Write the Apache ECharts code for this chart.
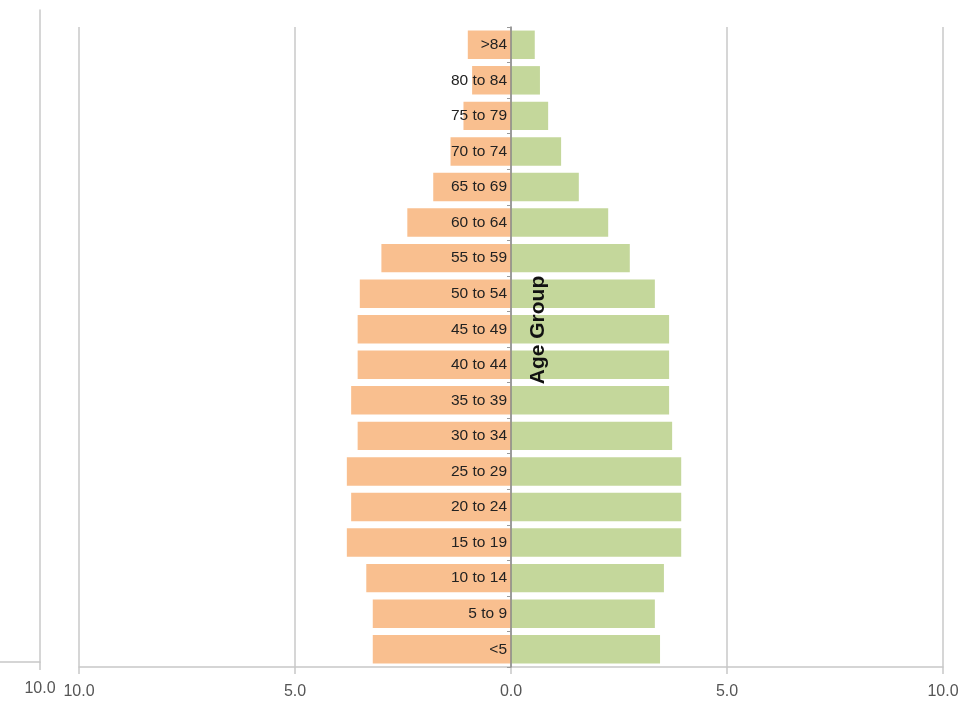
<!DOCTYPE html>
<html><head><meta charset="utf-8">
<script src="https://cdn.jsdelivr.net/npm/echarts@6/dist/echarts.min.js"></script>
<style>html,body{margin:0;padding:0;background:#fff}#c{width:977px;height:703px}</style>
</head><body><div id="c"></div>
<script>
const categories = ["<5","5 to 9","10 to 14","15 to 19","20 to 24","25 to 29","30 to 34","35 to 39","40 to 44","45 to 49","50 to 54","55 to 59","60 to 64","65 to 69","70 to 74","75 to 79","80 to 84",">84"];
const male = [3.2,3.2,3.35,3.8,3.7,3.8,3.55,3.7,3.55,3.55,3.5,3.0,2.4,1.8,1.4,1.1,0.9,1.0];
const female = [3.45,3.33,3.54,3.94,3.94,3.94,3.73,3.66,3.66,3.66,3.33,2.75,2.25,1.57,1.16,0.86,0.67,0.55];
const xTicks = {min:-10, max:10, interval:5};

const chart = echarts.init(document.getElementById('c'), null, {renderer:'canvas'});
const gridColor = '#c8c8c8';
const labelFont = {color:'#555', fontSize:16, fontFamily:'Liberation Sans, Arial, sans-serif'};
chart.setOption({
  animation:false,
  grid:[
    {left:79, right:34, top:27, bottom:36},
    {left:0, width:40, top:10, bottom:41}
  ],
  xAxis:[
    {gridIndex:0, type:'value', min:xTicks.min, max:xTicks.max, interval:xTicks.interval,
     axisLine:{show:true, onZero:false, lineStyle:{color:gridColor, width:1.5}},
     axisTick:{show:true, length:7, lineStyle:{color:gridColor, width:1.5}},
     splitLine:{show:true, lineStyle:{color:gridColor, width:1.5}},
     axisLabel:Object.assign({margin:17, formatter:v=>Math.abs(v).toFixed(1)}, labelFont)},
    {gridIndex:1, type:'value', min:0, max:10, interval:10,
     axisLine:{show:true, onZero:false, lineStyle:{color:gridColor, width:1.5}},
     axisTick:{show:true, length:8, lineStyle:{color:gridColor, width:1.5}},
     splitLine:{show:false},
     axisLabel:Object.assign({margin:19, showMinLabel:false, formatter:v=>v.toFixed(1)}, labelFont)}
  ],
  yAxis:[
    {gridIndex:0, type:'category', data:categories, offset:-432,
     axisLine:{show:true, onZero:false, lineStyle:{color:'#888', width:1.5}},
     axisTick:{show:true, length:4, lineStyle:{color:'#999'}},
     axisLabel:{margin:4, color:'#222', fontSize:15.5, fontFamily:'Liberation Sans, Arial, sans-serif'},
     name:'Age Group', nameLocation:'middle', nameGap:-38, nameRotate:90,
     nameTextStyle:{fontWeight:'bold', fontSize:21, color:'#111', fontFamily:'Liberation Sans, Arial, sans-serif', padding:[0,0,0,34]},
     z:5},
    {gridIndex:1, type:'value', position:'right', min:0, max:1,
     axisLine:{show:true, onZero:false, lineStyle:{color:gridColor, width:1.5}},
     axisTick:{show:false}, axisLabel:{show:false}, splitLine:{show:false}}
  ],
  series:[
    {type:'bar', name:'Male', xAxisIndex:0, yAxisIndex:0, stack:'a', data:male.map(v=>-v),
     barCategoryGap:'20%', itemStyle:{color:'#f9bf8f'}, z:2},
    {type:'bar', name:'Female', xAxisIndex:0, yAxisIndex:0, stack:'a', data:female,
     barCategoryGap:'20%', itemStyle:{color:'#c4d79b'}, z:2}
  ]
});
</script></body></html>
